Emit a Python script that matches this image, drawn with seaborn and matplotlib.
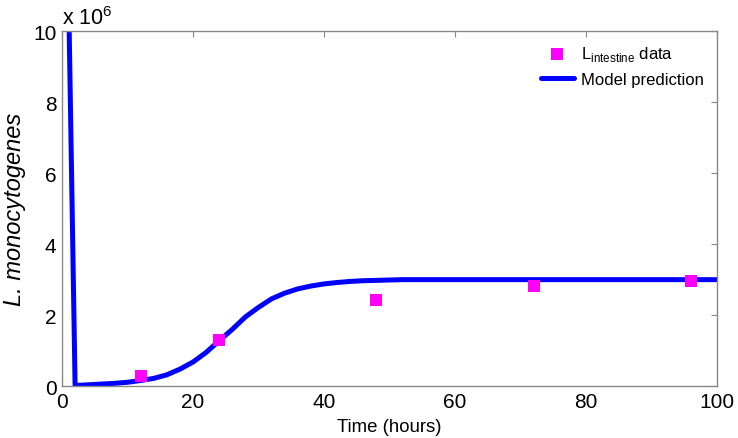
"""Listeria intestine load: data vs model prediction."""

import matplotlib.pyplot as plt
import pandas as pd
import seaborn as sns

# measured intestine load (hours, CFU)
data_t = [12, 24, 48, 72, 96]
data_l = [0.28e6, 1.30e6, 2.42e6, 2.82e6, 2.97e6]

# model curve
model_t = [1.1, 2.0, 4, 6, 8, 10, 12, 14, 16, 18, 20, 22, 24, 26, 28, 30, 32,
           34, 36, 38, 40, 42, 44, 46, 48, 50, 52, 56, 60, 70, 80, 90, 100]
model_l = [10.0e6, 0.02e6, 0.04e6, 0.06e6, 0.08e6, 0.11e6, 0.16e6, 0.22e6,
           0.32e6, 0.48e6, 0.68e6, 0.95e6, 1.28e6, 1.60e6, 1.95e6, 2.22e6,
           2.46e6, 2.62e6, 2.74e6, 2.82e6, 2.88e6, 2.92e6, 2.95e6, 2.97e6,
           2.98e6, 2.99e6, 3.0e6, 3.0e6, 3.0e6, 3.0e6, 3.0e6, 3.0e6, 3.0e6]

sns.set_theme(style="white")
plt.rcParams["font.family"] = ["Liberation Sans", "DejaVu Sans"]
plt.rcParams["mathtext.fontset"] = "custom"
plt.rcParams["mathtext.rm"] = "Liberation Sans"
plt.rcParams["text.color"] = "black"
plt.rcParams["axes.labelcolor"] = "black"
plt.rcParams["xtick.labelcolor"] = "black"
plt.rcParams["ytick.labelcolor"] = "black"

fig, ax = plt.subplots(figsize=(7.38, 4.39), dpi=100)
fig.subplots_adjust(left=0.084, right=0.9715, top=0.927, bottom=0.118)

df_data = pd.DataFrame({"t": data_t, "L": data_l})
df_model = pd.DataFrame({"t": model_t, "L": model_l})

sns.scatterplot(data=df_data, x="t", y="L", ax=ax, marker="s", s=85,
                color="#ff00ff", edgecolor="#ff00ff", linewidth=0,
                label=r"L$_{\mathrm{intestine}}$ data", zorder=3)
sns.lineplot(data=df_model, x="t", y="L", ax=ax, color="#0000ff", lw=3.6,
             label="Model prediction", zorder=2)

ax.set_xlim(0, 100)
ax.set_ylim(0, 10e6)
ax.set_xticks(range(0, 101, 20))
ax.set_yticks([i * 1e6 for i in range(0, 11, 2)])
ax.set_yticklabels([str(i) for i in range(0, 11, 2)])
ax.tick_params(direction="in", length=4, width=0.8, color="#888888",
               labelsize=15, top=True, right=True, pad=4)
for sp in ax.spines.values():
    sp.set_color("#888888")
    sp.set_linewidth(1.0)

ax.set_xlabel("Time (hours)", fontsize=13.4, labelpad=5)
ax.set_ylabel("L. monocytogenes", fontsize=17, style="italic", labelpad=5)
ax.text(0.0, 1.005, r"x 10$^{6}$", transform=ax.transAxes, fontsize=15.5,
        ha="left", va="bottom")

leg = ax.legend(loc="upper right", frameon=False, fontsize=12,
                handlelength=2.0, borderaxespad=0.4, labelspacing=0.5,
                handletextpad=0.4)

fig.savefig("out.png", dpi=100)
